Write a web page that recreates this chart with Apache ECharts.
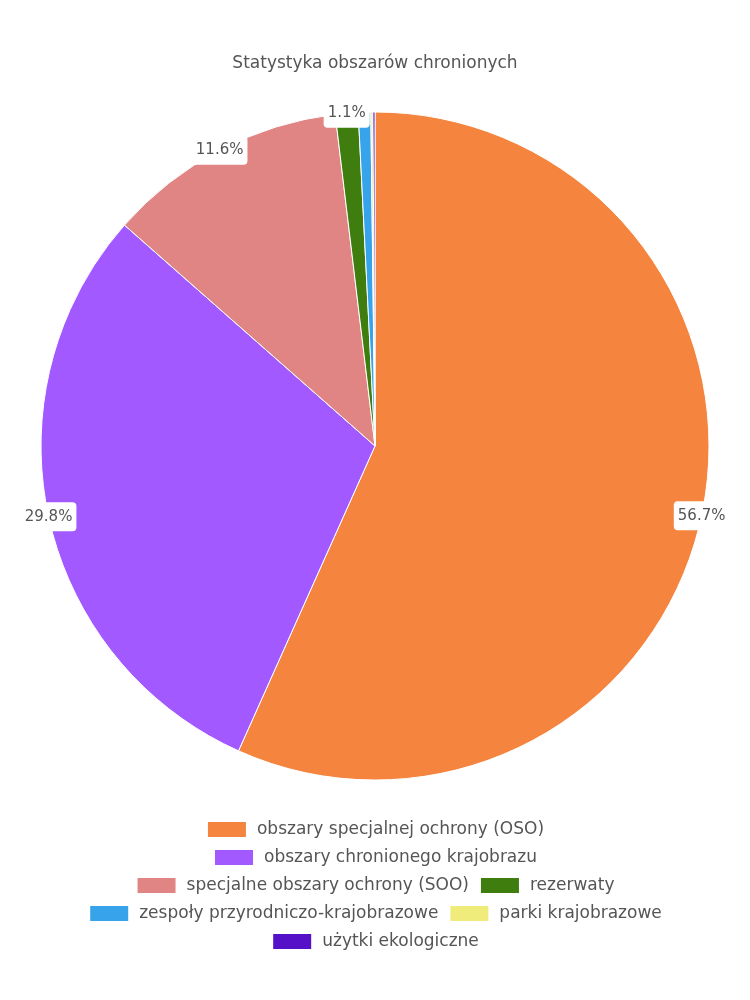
<!DOCTYPE html>
<html>
<head>
<meta charset="utf-8">
<script src="https://cdn.jsdelivr.net/npm/echarts@6/dist/echarts.min.js"></script>
<style>html,body{margin:0;padding:0;background:#fff}#c{width:750px;height:1000px}</style>
</head>
<body>
<div id="c"></div>
<script>
const titleText = 'Statystyka obszarów chronionych';
const categories = [
  'obszary specjalnej ochrony (OSO)',
  'obszary chronionego krajobrazu',
  'specjalne obszary ochrony (SOO)',
  'rezerwaty',
  'zespoły przyrodniczo-krajobrazowe',
  'parki krajobrazowe',
  'użytki ekologiczne'
];
const values = [56.7, 29.8, 11.6, 1.1, 0.6, 0.1, 0.1];
const colors = ['#F5843F', '#A259FF', '#E08484', '#3E7D0E', '#37A3EB', '#F0EC7C', '#5511C7'];
// legend rows as laid out in the reference
const legendRows = [[0], [1], [2, 3], [4, 5], [6]];

const FONT = 'DejaVu Sans';
const chart = echarts.init(document.getElementById('c'), null, {renderer: 'canvas'});
const total = values.reduce((a, b) => a + b, 0);
chart.setOption({
  animation: false,
  color: colors,
  title: {
    text: titleText,
    left: 'center',
    top: 50,
    textStyle: {fontFamily: FONT, fontSize: 17, fontWeight: 'normal', color: '#555'}
  },
  legend: legendRows.map((row, r) => ({
    top: 820 + r * 28,
    left: 'center',
    itemWidth: 40,
    itemHeight: 17,
    itemGap: 10,
    padding: 0,
    icon: 'rect',
    textStyle: {fontFamily: FONT, fontSize: 17, color: '#555', padding: [0, 0, 0, 5]},
    data: row.map(i => categories[i])
  })),
  series: [{
    type: 'pie',
    center: [375, 446],
    radius: [0, 334],
    startAngle: 90,
    clockwise: true,
    minShowLabelAngle: 3,
    avoidLabelOverlap: false,
    itemStyle: {borderColor: '#fff', borderWidth: 1},
    label: {
      show: true,
      position: 'outside',
      formatter: p => (p.value / total * 100).toFixed(1) + '%',
      fontFamily: FONT,
      fontSize: 15,
      color: '#555',
      backgroundColor: '#fff',
      borderRadius: 4,
      padding: [7, 4]
    },
    labelLine: {show: true, length: 0, length2: 0, lineStyle: {opacity: 0}},
    labelLayout: function (params) {
      const pts = params.labelLinePoints;
      if (!pts) return {};
      return {x: pts[0][0], y: pts[0][1], align: 'center', verticalAlign: 'middle'};
    },
    emphasis: {disabled: true},
    data: categories.map((c, i) => ({name: c, value: values[i]}))
  }]
});
</script>
</body>
</html>
